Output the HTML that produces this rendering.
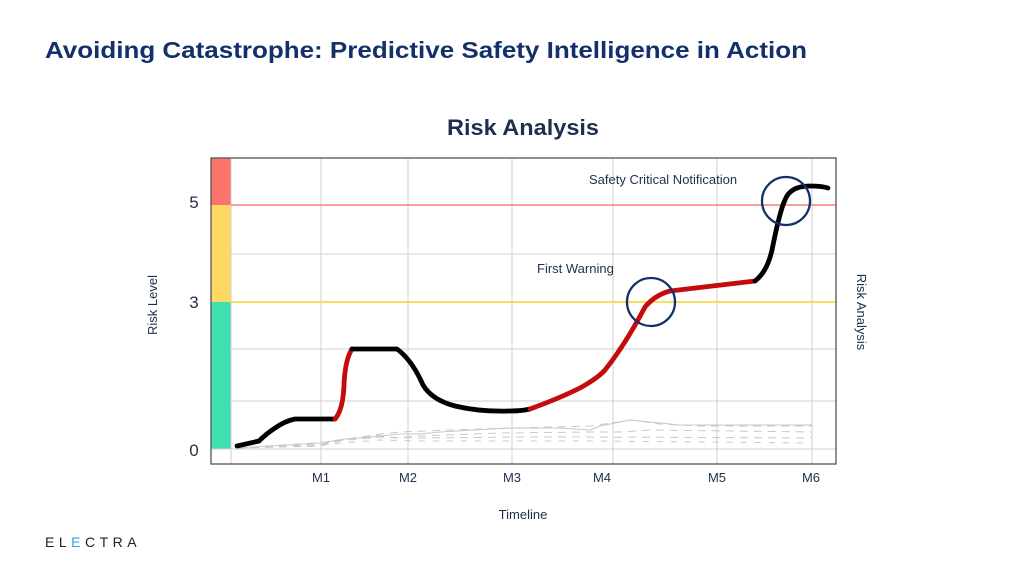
<!DOCTYPE html>
<html><head><meta charset="utf-8"><style>
html,body{margin:0;padding:0;background:#fff;width:1024px;height:576px;overflow:hidden}
svg{display:block}
text{font-family:"Liberation Sans",sans-serif}
</style></head><body>
<svg width="1024" height="576" viewBox="0 0 1024 576">
<text x="45" y="58" font-size="23" font-weight="bold" fill="#13306b" textLength="762" lengthAdjust="spacingAndGlyphs">Avoiding Catastrophe: Predictive Safety Intelligence in Action</text>
<text x="447" y="135" font-size="22" font-weight="bold" fill="#1f2f4f" textLength="152" lengthAdjust="spacingAndGlyphs">Risk Analysis</text>
<!-- bands -->
<rect x="211" y="158" width="20" height="47" fill="#fb736a"/>
<rect x="211" y="205" width="20" height="97" fill="#fbd962"/>
<rect x="211" y="302" width="20" height="147" fill="#3ee0b2"/>
<!-- grid -->
<g stroke="#cfcfcf" stroke-width="1">
<line x1="231" y1="158" x2="231" y2="464"/>
<line x1="321" y1="158" x2="321" y2="464"/>
<line x1="408" y1="158" x2="408" y2="464"/>
<line x1="512" y1="158" x2="512" y2="464"/>
<line x1="613" y1="158" x2="613" y2="464"/>
<line x1="717" y1="158" x2="717" y2="464"/>
<line x1="812" y1="158" x2="812" y2="464"/>
<line x1="231" y1="254" x2="836" y2="254"/>
<line x1="231" y1="349" x2="836" y2="349"/>
<line x1="231" y1="401" x2="836" y2="401"/>
<line x1="211" y1="449" x2="836" y2="449"/>
</g>
<line x1="231" y1="205" x2="836" y2="205" stroke="#f58078" stroke-width="1.5"/>
<line x1="231" y1="302" x2="836" y2="302" stroke="#f8d94a" stroke-width="1.8"/>
<rect x="211" y="158" width="625" height="306" fill="none" stroke="#555" stroke-width="1.3"/>
<!-- faint background series -->
<g fill="none" stroke="#c8c8c8" stroke-width="1">
<polyline points="237,448 320,445 340,440 360,437 380,434 400,432 450,430 512,428 590,426 632,420 660,424 700,426 812,426" stroke-dasharray="8,6"/>
<polyline points="237,448 330,442 350,439 375,435 395,438 420,436 500,433 590,432 620,432 650,430 812,432" stroke-dasharray="8,6"/>
<polyline points="237,448 320,446 340,441 380,437 420,438 520,437 600,437 812,438" stroke-dasharray="8,6"/>
<polyline points="237,448 320,443 345,439 370,437 390,435 400,434 420,434 440,432 510,428 560,428 590,430 600,426 630,420 680,425 812,425"/>
<polyline points="237,448 330,444 380,440 420,441 512,441 600,441 812,443" stroke-dasharray="6,8"/>
</g>
<!-- main curve -->
<g fill="none" stroke-width="4.8" stroke-linecap="round" stroke-linejoin="round">
<path d="M237,446 L259,441 Q266,434 275,428 Q285,421 295,419 L335,419" stroke="#000"/>
<path d="M335,419 Q343,410 344,385 Q345,360 352,349" stroke="#c40c0c"/>
<path d="M352,349 L397,349 Q412,360 423,385 Q432,400 455,406 Q480,412 510,411 Q522,411 530,409" stroke="#000"/>
<path d="M530,409 Q560,398 580,388 Q598,378 605,370 Q625,345 645,307 Q655,295 670,291 L755,281" stroke="#c40c0c"/>
<path d="M755,281 Q767,272 772,250 Q780,210 785,200 Q790,186 810,186 Q822,186 828,188" stroke="#000"/>
</g>
<circle cx="651" cy="302" r="24" fill="none" stroke="#13306b" stroke-width="2.3"/>
<circle cx="786" cy="201" r="24" fill="none" stroke="#13306b" stroke-width="2.3"/>
<text x="589" y="184" font-size="13" fill="#1f2f4f">Safety Critical Notification</text>
<text x="537" y="273" font-size="13" fill="#1f2f4f">First Warning</text>
<!-- y labels -->
<g font-size="17" fill="#1f2f4f" text-anchor="middle">
<text x="194" y="208">5</text>
<text x="194" y="308">3</text>
<text x="194" y="456">0</text>
</g>
<text transform="translate(157,305) rotate(-90)" font-size="13" fill="#1f2f4f" text-anchor="middle">Risk Level</text>
<text transform="translate(857,312) rotate(90)" font-size="13" fill="#1f2f4f" text-anchor="middle">Risk Analysis</text>
<g font-size="13" fill="#1f2f4f" text-anchor="middle">
<text x="321" y="482">M1</text>
<text x="408" y="482">M2</text>
<text x="512" y="482">M3</text>
<text x="602" y="482">M4</text>
<text x="717" y="482">M5</text>
<text x="811" y="482">M6</text>
<text x="523" y="519">Timeline</text>
</g>
<text x="45" y="547" font-size="14" fill="#222" letter-spacing="4.5">EL<tspan fill="#2aa7df">E</tspan>CTRA</text>
</svg>
</body></html>
